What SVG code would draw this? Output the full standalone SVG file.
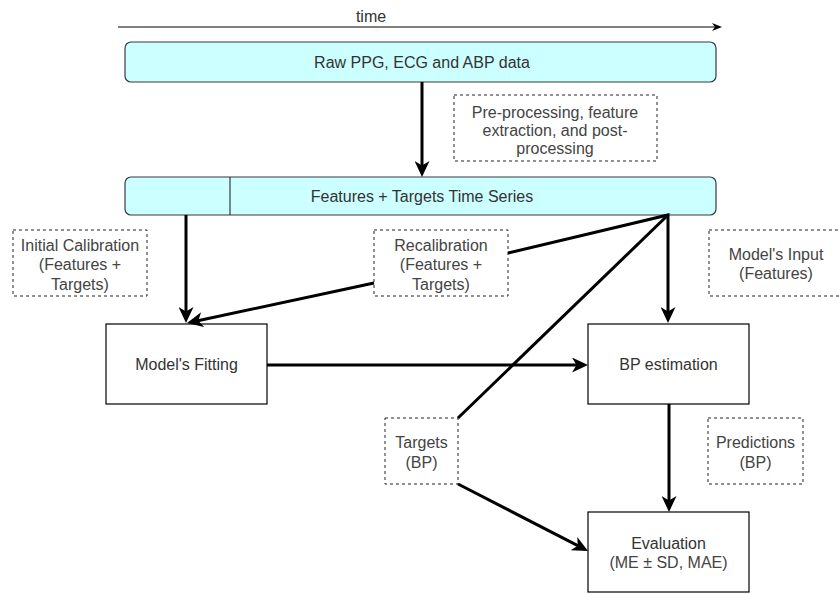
<svg xmlns="http://www.w3.org/2000/svg" width="839" height="594" viewBox="0 0 839 594">
<style>
text{font-family:"Liberation Sans",Arial,sans-serif;font-size:16px;fill:#333;text-anchor:middle;dominant-baseline:central}
.band{fill:#ccffff;stroke:#36393d;stroke-width:1.2}
.box{fill:#fff;stroke:#000;stroke-width:1.2}
.dash{fill:#fff;stroke:#222;stroke-width:1;stroke-dasharray:3 3}
.dt{fill:#444}
.conn{fill:none;stroke:#000;stroke-width:3}
</style>
<defs>
<marker id="ah" viewBox="0 0 16 15" refX="11" refY="7.5" markerWidth="16" markerHeight="15" markerUnits="userSpaceOnUse" orient="auto">
<path d="M0,0 L16,7.5 L0,15 L4.5,7.5 Z" fill="#000"/>
</marker>
<marker id="ahs" viewBox="0 0 10 8" refX="8" refY="4" markerWidth="10" markerHeight="8" markerUnits="userSpaceOnUse" orient="auto">
<path d="M0,0 L10,4 L0,8 L3,4 Z" fill="#000"/>
</marker>
</defs>
<rect width="839" height="594" fill="#fff"/>
<g id="time">
<line x1="118" y1="27" x2="720" y2="27" stroke="#000" stroke-width="1" marker-end="url(#ahs)"/>
<text x="371" y="16">time</text>
</g>
<g id="raw">
<rect class="band" x="125" y="42" width="591" height="40" rx="6"/>
<text x="422" y="62">Raw PPG, ECG and ABP data</text>
</g>
<g id="features">
<rect class="band" x="125" y="177" width="591" height="38" rx="6"/>
<line x1="230" y1="177" x2="230" y2="215" stroke="#36393d" stroke-width="1.2"/>
<text x="422" y="196">Features + Targets Time Series</text>
</g>
<g id="preproc">
<rect class="dash" x="454" y="95" width="203" height="66"/>
<text class="dt" x="555" y="112">Pre-processing, feature</text>
<text class="dt" x="555" y="130">extraction, and post-</text>
<text class="dt" x="555" y="148">processing</text>
</g>
<g id="initcal">
<rect class="dash" x="13" y="230" width="134" height="66"/>
<text class="dt" x="80" y="245">Initial Calibration</text>
<text class="dt" x="80" y="264.5">(Features +</text>
<text class="dt" x="80" y="284">Targets)</text>
</g>
<g id="recal">
<rect class="dash" x="374" y="230" width="134" height="66"/>
<text class="dt" x="441" y="245">Recalibration</text>
<text class="dt" x="441" y="264.5">(Features +</text>
<text class="dt" x="441" y="284">Targets)</text>
</g>
<g id="modelinput">
<rect class="dash" x="709" y="230" width="134" height="66"/>
<text class="dt" x="776" y="254.5">Model's Input</text>
<text class="dt" x="776" y="273.5">(Features)</text>
</g>
<g id="fitting">
<rect class="box" x="106" y="324" width="161" height="80"/>
<text x="186.5" y="364">Model's Fitting</text>
</g>
<g id="bpest">
<rect class="box" x="588" y="324" width="161" height="80"/>
<text x="668.5" y="364">BP estimation</text>
</g>
<g id="targets">
<rect class="dash" x="385" y="418" width="73" height="66"/>
<text class="dt" x="421.5" y="442.5">Targets</text>
<text class="dt" x="421.5" y="462">(BP)</text>
</g>
<g id="predictions">
<rect class="dash" x="708" y="418" width="95" height="66"/>
<text class="dt" x="755.5" y="442.5">Predictions</text>
<text class="dt" x="755.5" y="462">(BP)</text>
</g>
<g id="evaluation">
<rect class="box" x="588" y="512" width="161" height="80"/>
<text x="668.5" y="543">Evaluation</text>
<text class="dt" x="668.5" y="562">(ME ± SD, MAE)</text>
</g>
<g id="connectors">
<line class="conn" x1="422" y1="82" x2="422" y2="172" marker-end="url(#ah)"/>
<line class="conn" x1="186" y1="215" x2="186" y2="318" marker-end="url(#ah)"/>
<polyline class="conn" points="508,253 668,215 668,318" marker-end="url(#ah)"/>
<line class="conn" x1="374" y1="283" x2="191.9" y2="322" marker-end="url(#ah)"/>
<line class="conn" x1="668" y1="215" x2="458" y2="418"/>
<line class="conn" x1="458" y1="484" x2="583.6" y2="548.7" marker-end="url(#ah)"/>
<line class="conn" x1="267" y1="365" x2="583" y2="365" marker-end="url(#ah)"/>
<line class="conn" x1="669" y1="404" x2="669" y2="507" marker-end="url(#ah)"/>
</g>
</svg>
